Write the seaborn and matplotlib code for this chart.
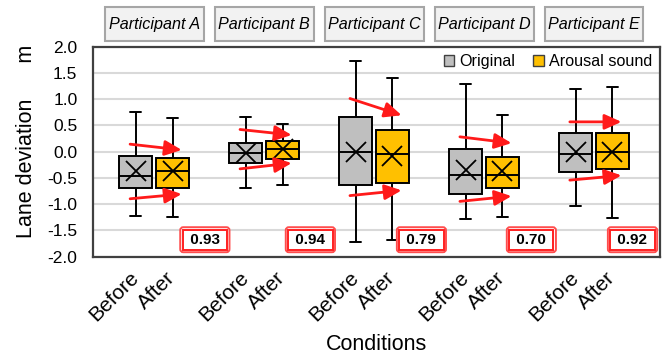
import numpy as np
import pandas as pd
import matplotlib
matplotlib.use("Agg")
import matplotlib.pyplot as plt
import matplotlib.transforms as mtransforms
from matplotlib.patches import Patch, Rectangle
import seaborn as sns

# ---------------- data ----------------
participants = ["Participant A", "Participant B", "Participant C", "Participant D", "Participant E"]
conditions = ["Original", "Arousal sound"]
tick_labels = ["Before", "After"]

# "Before" boxes (Original)
orig_min = [-1.22, -0.70, -1.72, -1.28, -1.03]
orig_q1 = [-0.70, -0.21, -0.64, -0.81, -0.39]
orig_med = [-0.47, -0.03, -0.01, -0.45, -0.04]
orig_q3 = [-0.08, 0.155, 0.655, 0.045, 0.35]
orig_max = [0.76, 0.66, 1.72, 1.28, 1.19]
orig_mean = [-0.37, -0.03, 0.00, -0.35, -0.01]

# "After" boxes (Arousal sound)
arou_min = [-1.24, -0.63, -1.69, -1.25, -1.26]
arou_q1 = [-0.69, -0.15, -0.60, -0.70, -0.34]
arou_med = [-0.37, 0.04, -0.05, -0.44, 0.00]
arou_q3 = [-0.115, 0.205, 0.41, -0.10, 0.36]
arou_max = [0.63, 0.53, 1.40, 0.69, 1.23]
arou_mean = [-0.37, 0.04, -0.08, -0.38, 0.00]

# red trend arrows (start value at Before, end value at After)
upper_start = [0.14, 0.42, 1.01, 0.28, 0.565]
upper_end = [0.03, 0.315, 0.69, 0.16, 0.565]
lower_start = [-0.90, -0.33, -0.84, -0.95, -0.545]
lower_end = [-0.81, -0.22, -0.74, -0.85, -0.455]

corr_labels = ["0.93", "0.94", "0.79", "0.70", "0.92"]
corr_value_y = [-1.68, -1.68, -1.68, -1.68, -1.68]
corr_xoff = [0.46, 0.42, 0.43, 0.43, 0.35]


def sample(lo, q1, med, q3, hi, mean):
    """9 sorted points whose quartiles/extremes/mean equal the read statistics."""
    base = lo + q1 + med + q3 + hi
    s = 9 * mean - base
    t = (s - (lo + q1 + med + q3)) / (hi - lo)
    t = min(max(t, 0.0), 1.0)
    return [lo, lo + t * (q1 - lo), q1, q1 + t * (med - q1), med,
            med + t * (q3 - med), q3, q3 + t * (hi - q3), hi]


rows = []
for i, p in enumerate(participants):
    for v in sample(orig_min[i], orig_q1[i], orig_med[i], orig_q3[i], orig_max[i], orig_mean[i]):
        rows.append((p, conditions[0], v))
    for v in sample(arou_min[i], arou_q1[i], arou_med[i], arou_q3[i], arou_max[i], arou_mean[i]):
        rows.append((p, conditions[1], v))
df = pd.DataFrame(rows, columns=["participant", "condition", "value"])

# ---------------- style ----------------
sns.set_theme(style="white")
plt.rcParams["font.family"] = ["Liberation Sans", "DejaVu Sans"]
plt.rcParams["axes.unicode_minus"] = False
for key in ("text.color", "axes.labelcolor", "xtick.color", "ytick.color"):
    plt.rcParams[key] = "black"

palette = {"Original": "#bfbfbf", "Arousal sound": "#ffc000"}
box_width = 0.667

fig = plt.figure(figsize=(6.68, 3.58), dpi=100)
ax = fig.add_axes([0.1388, 0.2835, 0.988 - 0.1388, 0.870 - 0.2835])

sns.boxplot(
    data=df, x="participant", y="value", hue="condition",
    order=participants, hue_order=conditions, palette=palette, saturation=1,
    width=box_width, gap=0.1, whis=(0, 100), linecolor="black", linewidth=1.4,
    showmeans=True,
    meanprops=dict(marker="x", markeredgecolor="black", markerfacecolor="black",
                   markersize=15, markeredgewidth=1.3),
    capwidths=0.1, legend=False, ax=ax,
)

ax.set_xlim(-0.56, 4.6)
ax.set_ylim(-2.0, 2.0)
yt = np.arange(-2.0, 2.01, 0.5)
ax.set_yticks(yt)
ax.set_yticklabels([f"{v:.1f}" for v in yt], fontsize=12.5)
ax.yaxis.grid(True, color="#d9d9d9", linewidth=1.5, zorder=0)
ax.set_axisbelow(True)

off = box_width / 4
xt = [g + s * off for g in range(len(participants)) for s in (-1, 1)]
ax.set_xticks(xt)
ax.set_xticklabels(tick_labels * len(participants), rotation=45, ha="right",
                   va="center", rotation_mode="anchor", fontsize=15)
ax.tick_params(axis="both", length=0, colors="black")
ax.tick_params(axis="y", pad=11)
ax.tick_params(axis="x", pad=13)

for sp in ax.spines.values():
    sp.set_visible(True)
    sp.set_color("#404040")
    sp.set_linewidth(1.6)

ax.set_xlabel("Conditions", fontsize=15.5, color="black")
ax.xaxis.set_label_coords(0.5, -0.37)
ax.set_ylabel("Lane deviation      m", fontsize=15.5, color="black")
ax.yaxis.set_label_coords(-0.098, 0.55)

# arrows
for i in range(len(participants)):
    for ys, ye in ((upper_start[i], upper_end[i]), (lower_start[i], lower_end[i])):
        ax.annotate("", xy=(i + 0.25, ye), xytext=(i - 0.22, ys),
                    arrowprops=dict(arrowstyle="-|>,head_length=0.6,head_width=0.27",
                                    color="#ff1a1a", lw=2, mutation_scale=17,
                                    shrinkA=0, shrinkB=0), zorder=6)

# correlation boxes
for i, lab in enumerate(corr_labels):
    ax.text(i + corr_xoff[i], corr_value_y[i], " " + lab + " ", fontsize=11, fontweight="bold",
            color="none", ha="center", va="center", zorder=7,
            bbox=dict(boxstyle="round,pad=0.36,rounding_size=0.2", fc="white",
                      ec="#ff4d4d", lw=1.4))
    ax.text(i + corr_xoff[i], corr_value_y[i], " " + lab + " ", fontsize=11, fontweight="bold",
            color="black", ha="center", va="center", zorder=8,
            bbox=dict(boxstyle="square,pad=0.2", fc="white", ec="#ff2020", lw=1.4))

# participant header boxes
trans = mtransforms.blended_transform_factory(ax.transData, ax.transAxes)
for i, p in enumerate(participants):
    ax.add_patch(Rectangle((i - 0.45, 1.025), 0.9, 0.161, transform=trans, clip_on=False,
                           facecolor="#f2f2f2", edgecolor="#a6a6a6", lw=1.5))
    ax.text(i, 1.105, p, transform=trans, ha="center", va="center",
            fontsize=11.6, style="italic", color="black")

# legend
handles = [Patch(facecolor=palette[c], edgecolor="#404040", lw=1) for c in conditions]
ax.legend(handles, conditions, loc="upper right", ncol=2, frameon=False, fontsize=11.6,
          handlelength=0.65, handleheight=0.65, handletextpad=0.35, columnspacing=1.1,
          borderaxespad=0.15, borderpad=0.3, labelcolor="black")

fig.savefig("out.png", dpi=100)
